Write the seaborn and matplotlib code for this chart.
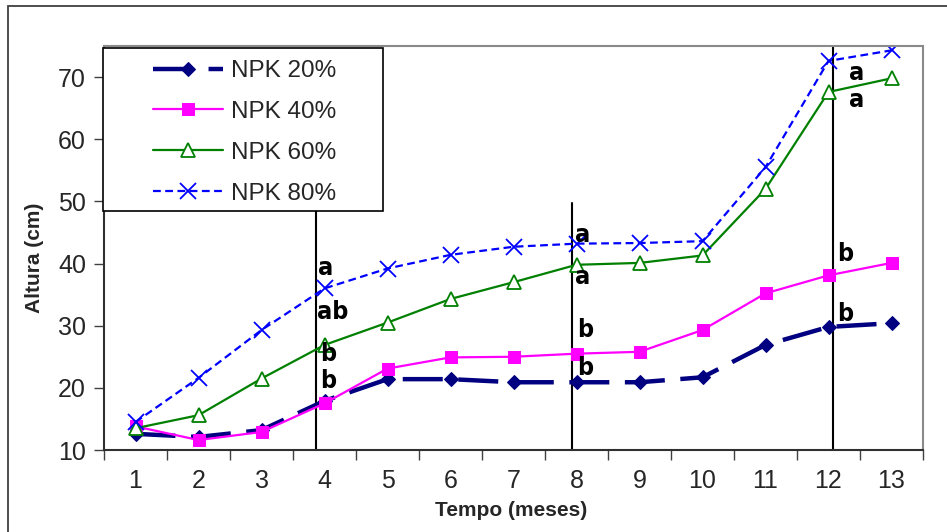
import matplotlib
matplotlib.use("Agg")
import matplotlib.pyplot as plt
from matplotlib.patches import Rectangle
import seaborn as sns
import pandas as pd

months = [1, 2, 3, 4, 5, 6, 7, 8, 9, 10, 11, 12, 13]
npk20 = [12.6, 12.1, 13.2, 17.9, 21.4, 21.4, 20.9, 20.9, 20.9, 21.7, 26.9, 29.8, 30.4]
npk40 = [13.8, 11.6, 12.9, 17.5, 23.1, 24.9, 25.0, 25.5, 25.8, 29.3, 35.2, 38.1, 40.1]
npk60 = [13.5, 15.6, 21.5, 26.9, 30.5, 34.3, 37.0, 39.8, 40.1, 41.3, 52.0, 67.6, 69.8]
npk80 = [14.5, 21.6, 29.3, 36.0, 39.2, 41.4, 42.7, 43.2, 43.3, 43.6, 55.5, 72.6, 74.3]
series_labels = ["NPK 20%", "NPK 40%", "NPK 60%", "NPK 80%"]
xlabel = "Tempo (meses)"
ylabel = "Altura (cm)"
yticks = [10, 20, 30, 40, 50, 60, 70]

# separator lines (x in category units, top value)
sep_x = [3.865, 7.93, 12.07]
sep_top = [50.2, 49.7, 75.0]
# significance letters
let_text = ["a", "ab", "b", "b", "a", "a", "b", "b", "b", "b", "a", "a"]
let_x = [4.02, 4.13, 4.06, 4.06, 8.09, 8.09, 8.13, 8.13, 12.26, 12.26, 12.44, 12.44]
let_y = [39.3, 32.2, 25.4, 21.1, 44.6, 37.8, 29.3, 23.2, 41.5, 31.9, 70.6, 66.3]

sns.set_style("white")
plt.rcParams['font.family'] = ['Liberation Sans', 'DejaVu Sans']

W, H = 947, 532
fig = plt.figure(figsize=(W / 100, H / 100), dpi=100)
ax = fig.add_axes([104 / W, 1 - 450 / H, (923 - 104) / W, (450 - 46) / H])

df = pd.DataFrame({"m": months, "a": npk20, "b": npk40, "c": npk60, "d": npk80})

sns.lineplot(data=df, x="m", y="a", ax=ax, color="#000080", lw=3.2,
             linestyle=(0, (9, 3.5)), marker="D", markersize=7,
             markeredgecolor="#000080", label=series_labels[0])
sns.lineplot(data=df, x="m", y="b", ax=ax, color="#FF00FF", lw=1.6,
             marker="s", markersize=9, markeredgecolor="#FF00FF",
             label=series_labels[1])
sns.lineplot(data=df, x="m", y="c", ax=ax, color="#008000", lw=1.6,
             marker="^", markersize=10, markerfacecolor="white",
             markeredgecolor="#008000", markeredgewidth=1.3,
             label=series_labels[2])
sns.lineplot(data=df, x="m", y="d", ax=ax, color="#0000FF", lw=1.6,
             linestyle=(0, (3.5, 2)), marker="x", markersize=12,
             markeredgecolor="#0000FF", markeredgewidth=1.3,
             label=series_labels[3])

for sx, st in zip(sep_x, sep_top):
    ax.plot([sx, sx], [10, st], color="black", lw=1.5, zorder=1)

for t, lx, ly in zip(let_text, let_x, let_y):
    ax.text(lx, ly, t, ha="center", va="center", fontsize=18,
            fontweight="bold", family="DejaVu Sans", fontstretch="condensed",
            color="black", zorder=5)

ax.set_xlim(0.5, 13.5)
ax.set_ylim(10, 75)
ax.set_xticks([i + 0.5 for i in range(0, 14)])
ax.set_xticklabels([])
ax.set_xticks(months, minor=True)
ax.set_xticklabels([str(m) for m in months], minor=True, fontsize=18)
ax.tick_params(axis="x", which="major", direction="out", length=7, width=1,
               color="#404040", bottom=True)
ax.tick_params(axis="x", which="minor", length=0, pad=14)
ax.set_yticks(yticks)
ax.set_yticklabels([str(v) for v in yticks], fontsize=18)
ax.tick_params(axis="y", direction="out", length=7, width=1, color="#404040",
               left=True, pad=6)

for side in ["left", "bottom"]:
    ax.spines[side].set_color("#303030")
    ax.spines[side].set_linewidth(1.5)
for side in ["top", "right"]:
    ax.spines[side].set_color("#8a8a8a")
    ax.spines[side].set_linewidth(1.5)

ax.set_xlabel("")
ax.set_ylabel("")
fig.text(511 / W, 1 - 510 / H, xlabel, ha="center", va="center",
         fontsize=15, fontweight="bold")
fig.text(35 / W, 1 - 258 / H, ylabel, ha="center", va="center",
         fontsize=15, fontweight="bold", rotation=90)

# legend
handles, labels = ax.get_legend_handles_labels()
leg = ax.legend(handles, labels, loc="upper left",
                bbox_to_anchor=(153 / W, 1 - 60 / H), bbox_transform=fig.transFigure,
                frameon=False, fontsize=17.5, handlelength=2.9, handletextpad=0.3,
                labelspacing=0.78, borderpad=0, borderaxespad=0)
leg.set_zorder(10)
ax.add_patch(Rectangle((103 / W, 1 - 211 / H), 280 / W, 163 / H,
                       transform=fig.transFigure, facecolor="white",
                       edgecolor="black", lw=1.2, zorder=9, clip_on=False))

# outer border
fig.patches.append(Rectangle((8 / W, -0.05), 1.2, 1 - 6 / H + 0.05,
                             transform=fig.transFigure, fill=False,
                             edgecolor="#404040", lw=1.3))

fig.savefig("out.png", dpi=100)
